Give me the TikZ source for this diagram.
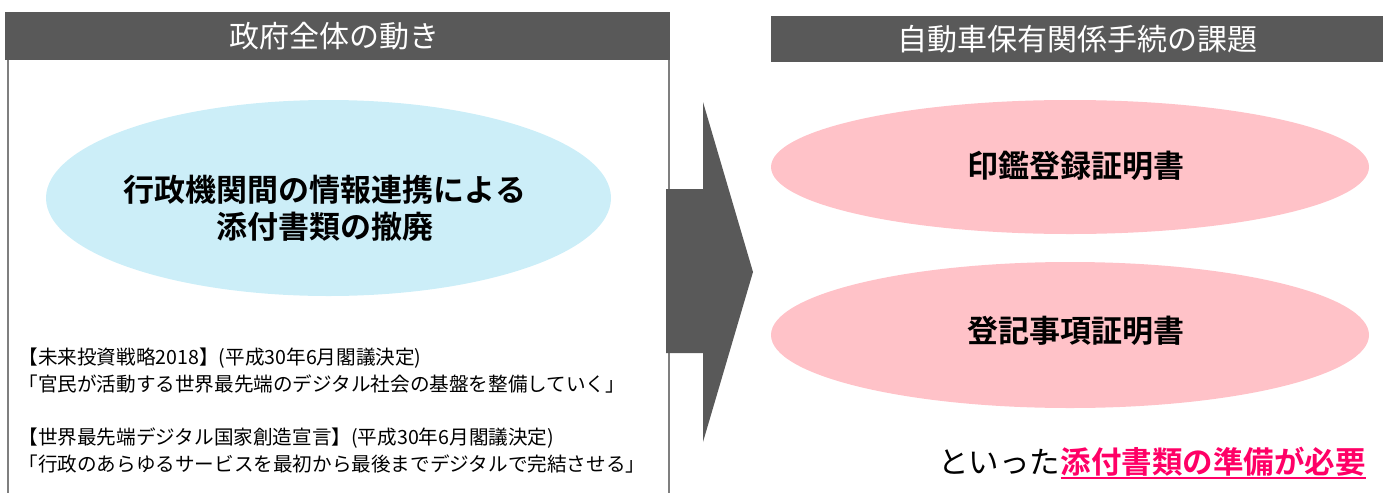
\documentclass[tikz,border=0pt]{standalone}
\usepackage{fontspec}
\setmainfont{Noto Sans CJK JP}
\newfontfamily\jpfont{Noto Sans CJK JP}
\newfontfamily\jpbold{Noto Sans CJK JP Bold}
\usetikzlibrary{shapes.geometric,calc}
\definecolor{hdrgray}{HTML}{595959}
\definecolor{boxline}{HTML}{7F7F7F}
\definecolor{lblue}{HTML}{CCEEF8}
\definecolor{lpink}{HTML}{FFC2C8}
\definecolor{mag}{HTML}{FF0066}
\begin{document}
\begin{tikzpicture}[x=1pt,y=-1pt,
  header/.style={fill=hdrgray,draw=none,text=white,font=\jpfont\fontsize{30}{32}\selectfont},
  blob/.style={ellipse,draw=none,inner sep=0pt},
  bigtxt/.style={font=\jpbold\fontsize{31}{37}\selectfont,align=center},
  quote/.style={font=\jpfont\fontsize{19.6}{26}\selectfont,anchor=west}]
\useasboundingbox (0,0) rectangle (1391,493);
% left frame
\draw[boxline,line width=1.6pt] (8,58) -- (8,493) (669,58) -- (669,493);
\fill[hdrgray] (5,12) rectangle (670,60);
\node[header] (lh) at (334,36) {政府全体の動き};
% right header
\fill[hdrgray] (771,16) rectangle (1383,62);
\node[header] (rh) at (1077,39) {自動車保有関係手続の課題};
% left ellipse
\node[blob,fill=lblue,minimum width=565pt,minimum height=196pt] (le) at (328.5,198) {};
\node[bigtxt] (let) at (325,208) {行政機関間の情報連携による\\添付書類の撤廃};
% arrow
\fill[hdrgray] (666,189) -- (703,189) -- (703,102) -- (753,272) -- (703,442) -- (703,353) -- (666,353) -- cycle;
% right ellipses
\node[blob,fill=lpink,minimum width=598pt,minimum height=134pt] (e1) at (1070,167) {};
\node[bigtxt] (e1t) at (1076,166) {印鑑登録証明書};
\node[blob,fill=lpink,minimum width=598pt,minimum height=146pt] (e2) at (1070,335) {};
\node[bigtxt] (e2t) at (1076,331) {登記事項証明書};
% quotes
\node[quote] (q1) at (15,358) {【未来投資戦略2018】(平成30年6月閣議決定)};
\node[quote] (q2) at (15,384) {「官民が活動する世界最先端のデジタル社会の基盤を整備していく」};
\node[quote] (q3) at (15,438) {【世界最先端デジタル国家創造宣言】(平成30年6月閣議決定)};
\node[quote] (q4) at (15,464) {「行政のあらゆるサービスを最初から最後までデジタルで完結させる」};
% bottom statement
\node[anchor=east,inner sep=0pt,font=\jpbold\fontsize{30.5}{32}\selectfont,text=mag] (need) at (1366,462) {添付書類の準備が必要};
\draw[mag,line width=1.5pt] ($(need.south west)+(0,1)$) -- ($(need.south east)+(0,1)$);
\node[anchor=east,inner sep=0pt,font=\jpfont\fontsize{30.5}{32}\selectfont] (toitta) at (need.west) {といった};
\end{tikzpicture}
\end{document}
